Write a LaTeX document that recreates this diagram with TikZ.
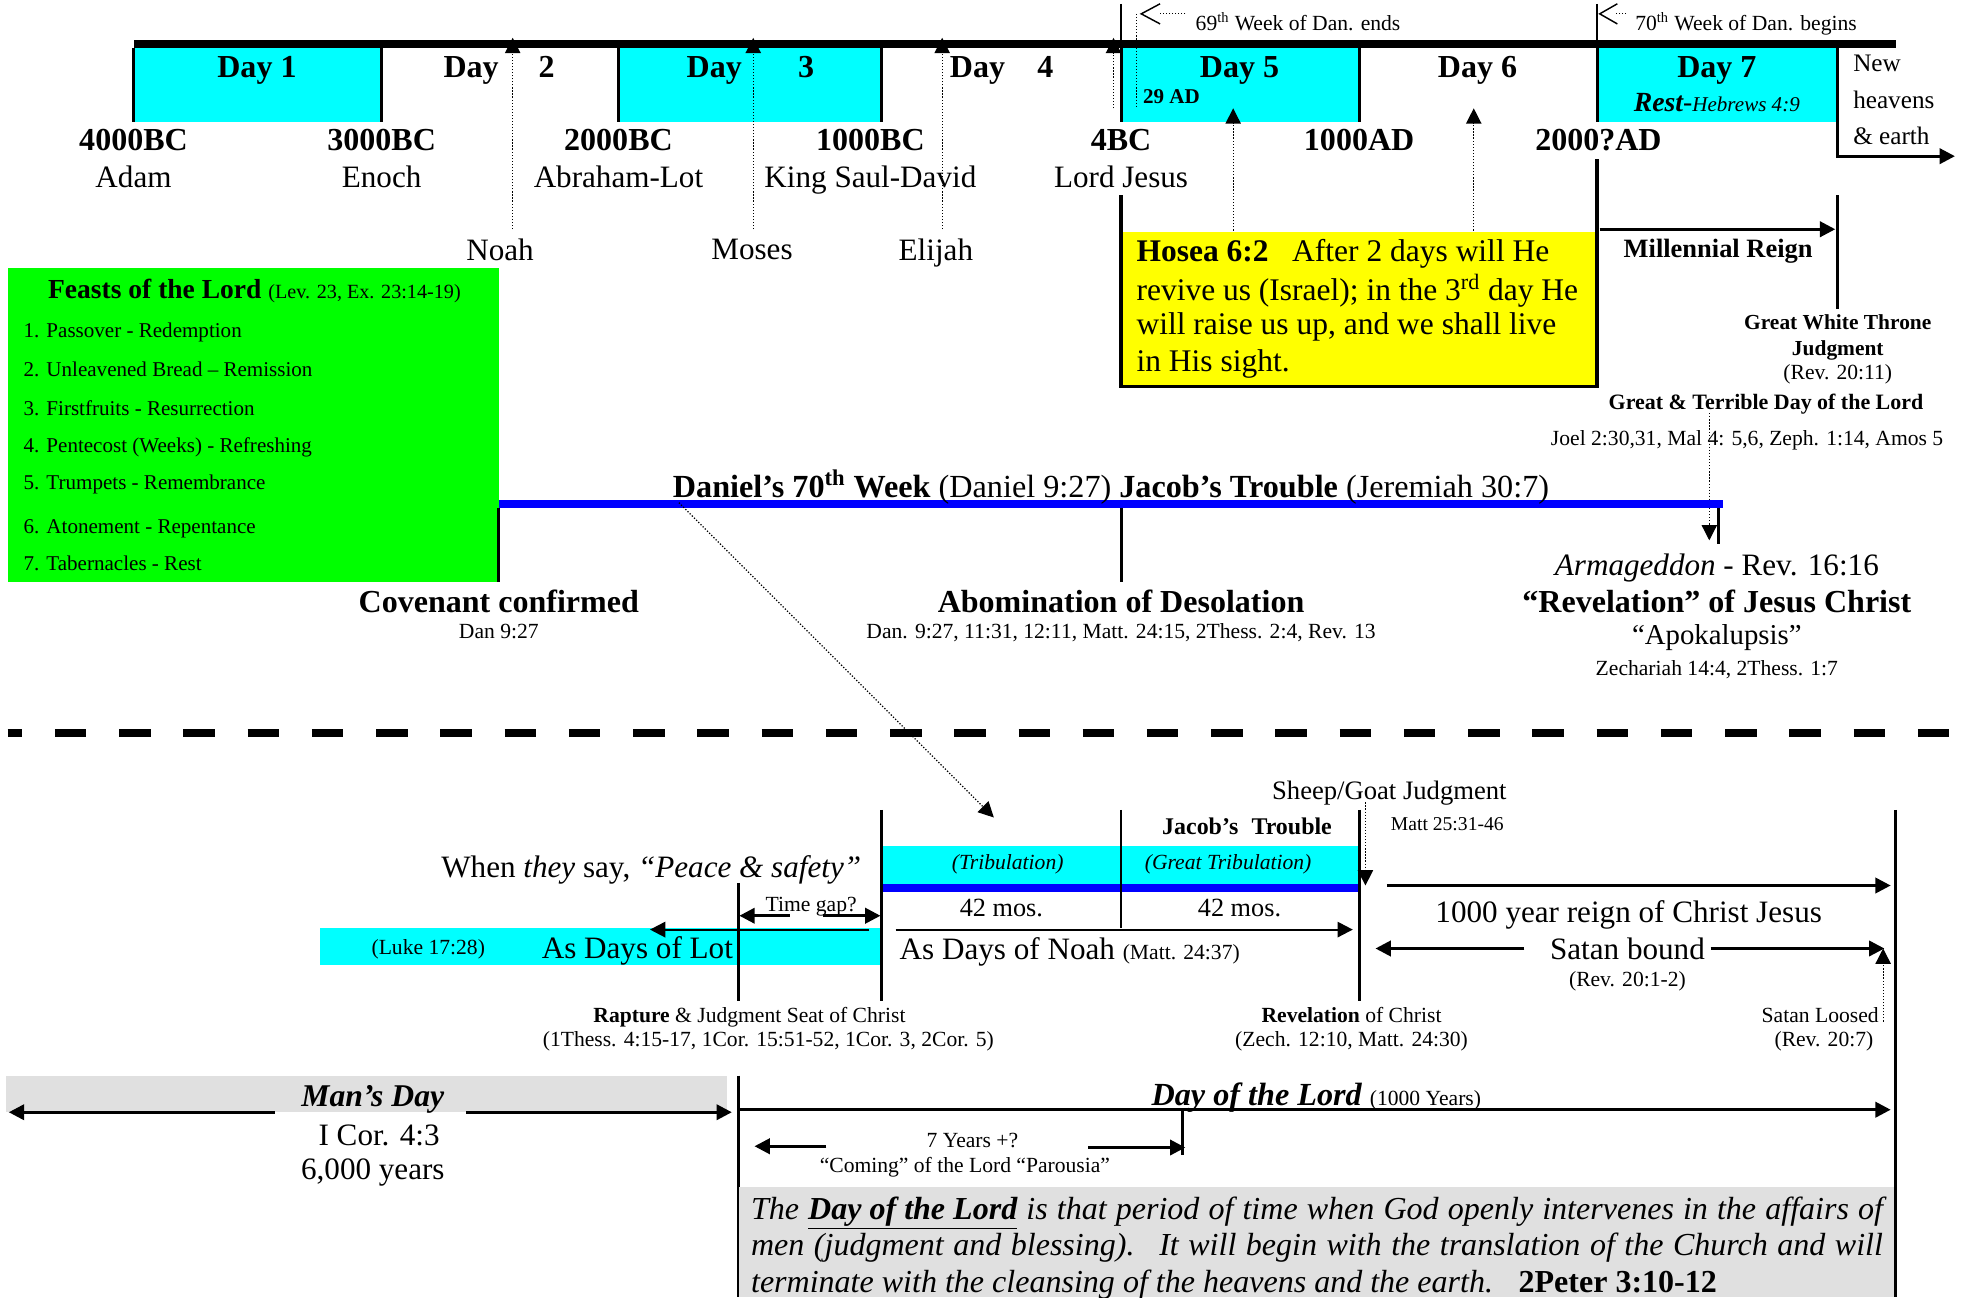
\documentclass[tikz,border=0pt]{standalone}
\usepackage{fontspec}
\setmainfont{Liberation Serif}
\usepackage{tikz}
\usetikzlibrary{arrows.meta}
\usetikzlibrary{positioning}

\definecolor{daycyan}{RGB}{0,255,255}
\definecolor{feastgreen}{RGB}{0,255,0}
\definecolor{hoseayellow}{RGB}{255,255,0}
\definecolor{weekblue}{RGB}{0,0,255}
\definecolor{lordgray}{RGB}{224,224,224}

\begin{document}
\begin{tikzpicture}[x=0.7pt,y=-0.7pt,>={Triangle[length=8.5pt,width=8.5pt]},
			node distance=20.3pt,
			every node/.style={inner sep=0pt,text depth=0pt},
			big bold/.style={font=\fontsize{17.8}{21}\selectfont\bfseries},
			big text/.style={font=\fontsize{17.3}{21}\selectfont},
			hosea text/.style={font=\fontsize{17.5}{21}\selectfont,anchor=west},
			small text/.style={font=\fontsize{12}{14}\selectfont},
			feast item/.style={font=\fontsize{11.7}{13}\selectfont,anchor=west},
			para line/.style={anchor=west,font=\fontsize{17.8}{21}\selectfont\itshape},
			day edge/.style={line width=1.7pt},
			thick arrow/.style={->,line width=1.6pt},
			thin arrow/.style={->,line width=1.2pt},
			dot arrow/.style={->,densely dotted,line width=0.7pt}]
			
			\useasboundingbox (0,0) rectangle (1560,1030);
			
			% the seven days
			\fill[daycyan] (106,38) rectangle (303,97);
			\fill[daycyan] (491,38) rectangle (700,97);
			\fill[daycyan] (890,38) rectangle (1079,97);
			\fill[daycyan] (1268,38) rectangle (1459,97);
			\fill (106,32) rectangle (1505,38);
			\foreach \x in {106,303,491,700,890,1079,1268}
				\draw[day edge] (\x,38) -- (\x,97);
			\draw[line width=0.8pt] (890,3) -- (890,32);
			\draw[line width=0.8pt] (1268,3) -- (1268,32);
			
			\node[big bold] (day1) at (204,53) {Day 1};
			\node[big bold] (day2) at (374,53) {Day};
			\node[big bold] (num2) at (434,53) {2};
			\node[big bold] (day3) at (567,53) {Day};
			\node[big bold] (num3) at (640,53) {3};
			\node[big bold] (day4) at (776,53) {Day};
			\node[big bold] (num4) at (830,53) {4};
			\node[big bold] (day5) at (984,53) {Day 5};
			\node[big bold] (day6) at (1173,53) {Day 6};
			\node[big bold] (day7) at (1363,53) {Day 7};
			\node[font=\fontsize{11.7}{14}\selectfont\bfseries] (ad29) at (930,77) {29 AD};
			\node (rest) at (1363,81) {\fontsize{15.4}{18}\selectfont\bfseries\itshape Rest\mdseries -\fontsize{11.7}{14}\selectfont Hebrews 4:9};
			
			\node[big bold] (bc4000) at (106,111) {4000BC};
			\node[big bold] (bc3000) at (303,111) {3000BC};
			\node[big bold] (bc2000) at (491,111) {2000BC};
			\node[big bold] (bc1000) at (691,111) {1000BC};
			\node[big bold] (bc4) at (890,111) {4BC};
			\node[big bold] (ad1000) at (1079,111) {1000AD};
			\node[big bold] (ad2000) at (1269,111) {2000?AD};
			\node[big text] (adam) [below of=bc4000] {Adam};
			\node[big text] (enoch) [below of=bc3000] {Enoch};
			\node[big text] (abraham) [below of=bc2000] {Abraham-Lot};
			\node[big text] (david) [below of=bc1000] {King Saul-David};
			\node[big text] (jesus) [below of=bc4] {Lord Jesus};
			
			\foreach \name/\x/\lab/\lx in {noah/407/Noah/397,moses/598/Moses/597,elijah/748/Elijah/743}{
				\node[big text] (\name) at (\lx,198) {\lab};
				\coordinate (\name foot) at (\x,182);
				\coordinate (\name tip) at (\x,30);
				\draw[dot arrow] (\name foot) -- (\name tip);
			}
			\coordinate (birth foot) at (884,86);
			\coordinate (birth tip) at (884,30);
			\draw[dot arrow] (birth foot) -- (birth tip);
			
			% 69th and 70th week
			\node[small text,anchor=west] (end69) at (949,17) {69\textsuperscript{th} Week of Dan. ends};
			\node[small text,anchor=west] (begin70) at (1298,17) {70\textsuperscript{th} Week of Dan. begins};
			\draw[densely dotted,line width=0.7pt] (941,11) -- (920,11);
			\draw[densely dotted,line width=0.7pt] (902,11) -- (902,85);
			\draw[line width=0.8pt] (921,3) -- (906,11) -- (921,19);
			\draw[densely dotted,line width=0.7pt] (1291,11) -- (1283,11);
			\draw[line width=0.8pt] (1284,3) -- (1270,11) -- (1284,19);
			
			\node[font=\fontsize{14}{17}\selectfont,anchor=west] (new) at (1471,50) {New};
			\node[font=\fontsize{14}{17}\selectfont,anchor=west] (heavens) at (1471,79) {heavens};
			\node[font=\fontsize{14}{17}\selectfont,anchor=west] (earth) at (1471,108) {\& earth};
			\coordinate (new tip) at (1552,124);
			\draw[thick arrow] (1459,38) |- (new tip);
			
			% Hosea 6:2
			\fill[hoseayellow] (890,184) rectangle (1268,307);
			\draw[line width=2pt] (890,155) -- (890,307) -- (1268,307) -- (1268,126);
			\node[hosea text] (hosea1) at (902,199) {\textbf{Hosea 6:2}\hspace{0.75em}After 2 days will He};
			\node[hosea text] (hosea2) at (902,228) {revive us (Israel); in the 3\textsuperscript{rd} day He};
			\node[hosea text] (hosea3) at (902,257) {will raise us up, and we shall live};
			\node[hosea text] (hosea4) at (902,286) {in His sight.};
			\foreach \x in {979,1170}{
				\coordinate (hos foot \x) at (\x,183);
				\coordinate (hos tip \x) at (\x,86);
				\draw[dot arrow] (hos foot \x) -- (hos tip \x);
			}
			
			% millennial reign and judgments
			\coordinate (mill start) at (1270,182);
			\coordinate (mill tip) at (1457,182);
			\draw[thick arrow] (mill start) -- (mill tip);
			\node[font=\fontsize{14.7}{17}\selectfont\bfseries] (mill) at (1364,197) {Millennial Reign};
			\draw[day edge] (1459,155) -- (1459,245);
			\node[font=\fontsize{11.9}{14}\selectfont\bfseries] (gwt) at (1459,256) {Great White Throne};
			\node[font=\fontsize{11.9}{14}\selectfont\bfseries] (gwt2) at (1459,276) {Judgment};
			\node[small text] (gwtref) at (1459,295) {(Rev. 20:11)};
			\node[font=\fontsize{12.2}{14}\selectfont\bfseries] (terrible) at (1402,319) {Great \& Terrible Day of the Lord};
			\node[small text] (joel) at (1387,348) {Joel 2:30,31, Mal 4: 5,6, Zeph. 1:14, Amos 5};
			\coordinate (terrible foot) at (1357,328);
			\coordinate (terrible tip) at (1357,429);
			\draw[dot arrow] (terrible foot) -- (terrible tip);
			
			% feasts of the Lord
			\fill[feastgreen] (6,213) rectangle (396,462);
			\node (feasts) at (202,229) {\fontsize{15.3}{18}\selectfont\bfseries Feasts of the Lord \fontsize{11.2}{13}\selectfont\mdseries(Lev. 23, Ex. 23:14-19)};
			\foreach \y/\t [count=\i] in {262/Passover - Redemption,293/Unleavened Bread – Remission,324/Firstfruits - Resurrection,353/Pentecost (Weeks) - Refreshing,383/Trumpets - Remembrance,418/Atonement - Repentance,447/Tabernacles - Rest}
				\node[feast item] (feast\i) at (18.5,\y) {\i. \t};
			
			% Daniel's 70th week
			\fill[weekblue] (396,397) rectangle (1368,403);
			\draw[day edge] (396,403) -- (396,462);
			\draw[day edge] (890,403) -- (890,462);
			\draw[day edge] (1364,403) -- (1364,432);
			\node[font=\fontsize{17.9}{21}\selectfont] (week70) at (882,384) {\textbf{Daniel’s 70\textsuperscript{th} Week} (Daniel 9:27) \textbf{Jacob’s Trouble} (Jeremiah 30:7)};
			\node[big bold] (covenant) at (396,477) {Covenant confirmed};
			\node[small text] (covref) at (396,501) {Dan 9:27};
			\node[big bold] (abom) at (890,477) {Abomination of Desolation};
			\node[small text] (abomref) at (890,501) {Dan. 9:27, 11:31, 12:11, Matt. 24:15, 2Thess. 2:4, Rev. 13};
			\node[big text] (armageddon) at (1363,448) {\textit{Armageddon} - Rev. 16:16};
			\node[big bold] (revelation) at (1363,477) {“Revelation” of Jesus Christ};
			\node[font=\fontsize{16}{19}\selectfont] (apok) at (1363,504) {“Apokalupsis”};
			\node[small text] (zech) at (1363,530) {Zechariah 14:4, 2Thess. 1:7};
			
			\draw[line width=4.8pt,dash pattern=on 17.5pt off 18.2pt,dash phase=9.4pt] (6,582) -- (1555,582);
			
			% the last week, close up
			\coordinate (zoom start) at (539,399);
			\coordinate (zoom tip) at (789,649);
			\draw[dot arrow] (zoom start) -- (zoom tip);
			\fill[daycyan] (700,672) rectangle (1079,702);
			\fill[weekblue] (700,702) rectangle (1079,708);
			\fill[daycyan] (254,737) rectangle (699,766);
			\draw[day edge] (700,643) -- (700,795);
			\draw[line width=1pt] (890,643) -- (890,737);
			\draw[day edge] (1079,643) -- (1079,795);
			\draw[day edge] (586,701) -- (586,795);
			\draw[day edge] (1505,643) -- (1505,1030);
			
			\node[big text] (peace) at (517,688) {When \textit{they} say, \textit{“Peace \& safety”}};
			\node[small text,font=\fontsize{12}{14}\selectfont\itshape] (trib) at (800,684) {(Tribulation)};
			\node[small text,font=\fontsize{12}{14}\selectfont\itshape] (gtrib) at (975,684) {(Great Tribulation)};
			\node[font=\fontsize{13.3}{16}\selectfont\bfseries] (jacob) at (990,656) {Jacob’s\hspace{0.3em} Trouble};
			\node[font=\fontsize{14.8}{17}\selectfont] (sheep) at (1103,627) {Sheep/Goat Judgment};
			\node[font=\fontsize{10.9}{13}\selectfont] (matt) at (1149,654) {Matt 25:31-46};
			\coordinate (sheep foot) at (1084,637);
			\coordinate (sheep tip) at (1084,703);
			\draw[dot arrow] (sheep foot) -- (sheep tip);
			\node[font=\fontsize{14.6}{17}\selectfont] (mos1) at (795,721) {42 mos.};
			\node[font=\fontsize{14.6}{17}\selectfont] (mos2) at (984,721) {42 mos.};
			
			\coordinate (noah start) at (711,738);
			\coordinate (noah end) at (1074,738);
			\draw[thin arrow] (noah start) -- (noah end);
			\node[anchor=west] (noahdays) at (714,753) {\fontsize{17.3}{21}\selectfont As Days of Noah \fontsize{12}{14}\selectfont(Matt. 24:37)};
			\node[small text] (luke) at (340,752) {(Luke 17:28)};
			\node[big text] (lot) at (506,752) {As Days of Lot};
			\coordinate (lot start) at (690,738);
			\coordinate (lot end) at (516,738);
			\draw[thin arrow] (lot start) -- (lot end);
			\node[small text] (gap) at (644,718) {Time gap?};
			\draw[thick arrow] (627,727) -- (587,727);
			\draw[thick arrow] (653,727) -- (699,727);
			\node[small text] (rapture) at (595,806) {\textbf{Rapture} \& Judgment Seat of Christ};
			\node[small text] (raptref) at (610,825) {(1Thess. 4:15-17, 1Cor. 15:51-52, 1Cor. 3, 2Cor. 5)};
			\node[small text] (revchrist) at (1073,806) {\textbf{Revelation} of Christ};
			\node[small text] (revref) at (1073,825) {(Zech. 12:10, Matt. 24:30)};
			
			\coordinate (reign start) at (1101,703);
			\coordinate (reign tip) at (1501,703);
			\draw[thick arrow] (reign start) -- (reign tip);
			\node[big text] (reign) at (1293,724) {1000 year reign of Christ Jesus};
			\node[big text] (bound) at (1292,753) {Satan bound};
			\draw[thick arrow] ([xshift=-14pt]bound.west) -- (1092,753);
			\draw[thick arrow] ([xshift=3pt]bound.east) -- (1496,753);
			\node[small text] (boundref) at (1292,777) {(Rev. 20:1-2)};
			\node[small text] (loosed) at (1445,806) {Satan Loosed};
			\node[small text] (loosedref) at (1448,825) {(Rev. 20:7)};
			\coordinate (loosed foot) at (1495,811);
			\coordinate (loosed tip) at (1495,753);
			\draw[dot arrow] (loosed foot) -- (loosed tip);
			
			% man's day and the day of the Lord
			\fill[lordgray] (5,854) rectangle (577,883);
			\node[font=\fontsize{17.6}{21}\selectfont\bfseries\itshape] (mansday) at (296,870) {Man’s Day};
			\draw[thick arrow] (218,883) -- (7,883);
			\draw[thick arrow] (370,883) -- (581,883);
			\node[big text] (icor) at (301,901) {I Cor. 4:3};
			\node[big text] (years6000) at (296,928) {6,000 years};
			\draw[day edge] (586,854) -- (586,1030);
			\draw[thick arrow] (586,881) -- (1501,881);
			\node (dayoflord) at (1045,869) {\fontsize{17.9}{21}\selectfont\bfseries\itshape Day of the Lord \fontsize{12}{14}\selectfont\mdseries\upshape(1000 Years)};
			\node[small text] (seven) at (772,905) {7 Years +?};
			\node[small text] (coming) at (766,925) {“Coming” of the Lord “Parousia”};
			\draw[thick arrow] (656,910) -- (599,910);
			\draw[thick arrow] (864,911) -- (941,911);
			\draw[line width=1.6pt] (939,881) -- (939,917);
			
			\fill[lordgray] (587,942) rectangle (1504,1030);
			\node[para line] (para1) at (596,959) {\makebox[629pt][s]{The \textbf{\underline{Day of the Lord}} is that period of time when God openly intervenes in the affairs of}};
			\node[para line] (para2) at (596,988) {\makebox[629pt][s]{men (judgment and blessing).\hspace{0.3em} It will begin with the translation of the Church and will}};
			\node[para line] (para3) at (596,1017) {terminate with the cleansing of the heavens and the earth.\hspace{0.8em}\textbf{\upshape 2Peter 3:10-12}};
		\end{tikzpicture}
\end{document}
